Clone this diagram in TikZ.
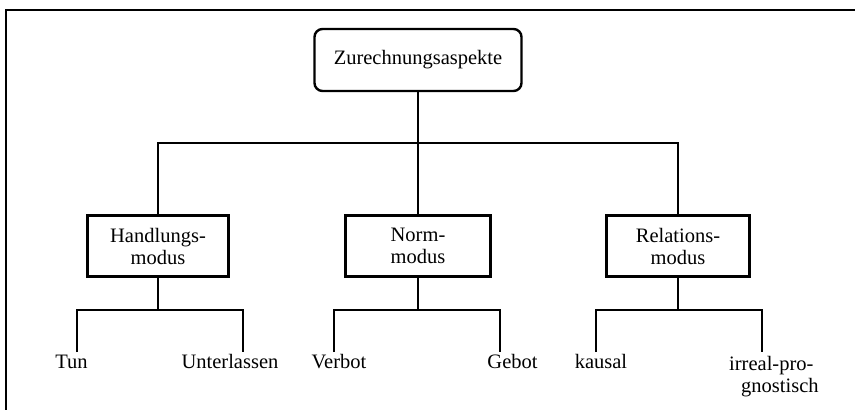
\documentclass[tikz,border=0pt]{standalone}
\usepackage{fontspec}
\setmainfont{Liberation Serif}
\begin{document}
\begin{tikzpicture}[x=1pt,y=-1pt,
  line width=2.4pt,
  every node/.style={font=\fontsize{20.5}{22}\selectfont},
  rootbox/.style={draw,rounded corners=8pt,minimum width=207pt,minimum height=62pt,inner sep=0pt},
  modebox/.style={draw,minimum height=61pt,inner sep=0pt,align=center},
  leaf/.style={anchor=base,inner sep=0pt}]
\useasboundingbox (0,0) rectangle (855,410);
% frame
\draw[line width=2.6pt] (6,410) -- (6,10) -- (855,10);
% root and modes
\node[rootbox] (root) at (418,60) {Zurechnungsaspekte};
\node[modebox,minimum width=141pt] (hand) at (158,246) {Handlungs-\\modus};
\node[modebox,minimum width=145pt] (norm) at (418,246) {Norm-\\modus};
\node[modebox,minimum width=143pt] (rel) at (678,246) {Relations-\\modus};
% bus
\coordinate (hb) at (158,143);
\coordinate (rb) at (678,143);
\draw (hand.north) -- (hb) -- (rb) -- (rel.north);
\draw (root.south) -- (norm.north);
% leaves
\node[leaf] (tun) at (71.5,368) {Tun};
\node[leaf] (unt) at (230,368) {Unterlassen};
\node[leaf] (verb) at (339,368) {Verbot};
\node[leaf] (geb) at (512.5,368) {Gebot};
\node[leaf] (kaus) at (601,368) {kausal};
\node[leaf,anchor=base west,align=left] (irr) at (728,392) {irreal-pro-\\\hspace*{12pt}gnostisch};
% junctions
\coordinate (hj) at (158,310);
\coordinate (nj) at (418,310);
\coordinate (rj) at (678,310);
\coordinate (tunT) at (77,352);
\coordinate (untT) at (243,352);
\coordinate (verbT) at (334,352);
\coordinate (gebT) at (500,352);
\coordinate (kausT) at (596,352);
\coordinate (irrT) at (762,352);
\draw (hand.south) -- (hj);
\draw (norm.south) -- (nj);
\draw (rel.south) -- (rj);
\draw (tunT) |- (hj) -| (untT);
\draw (verbT) |- (nj) -| (gebT);
\draw (kausT) |- (rj) -| (irrT);
\end{tikzpicture}
\end{document}
